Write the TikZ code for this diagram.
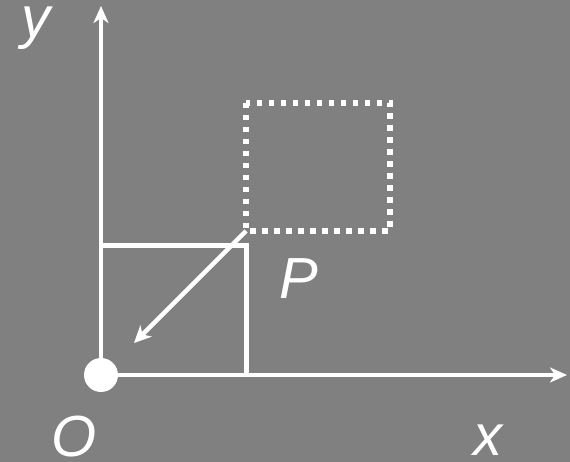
\documentclass[tikz,border=0pt]{standalone}
\usepackage{fontspec}
\setmainfont{Liberation Sans}
\usetikzlibrary{arrows.meta, positioning}

\begin{document}
\begin{tikzpicture}[
  x=1pt, y=-1pt,
  every node/.style = {font=\fontsize{58}{60}\selectfont\itshape, text=white,
                       inner sep=0pt},
  axis/.style  = {-{Stealth[length=17pt, width=15pt, inset=5pt]},
                  line width=4.5pt, white},
  boxline/.style = {line width=5pt, white},
  moved/.style = {line width=5.5pt, white, dash pattern=on 5.5pt off 6.5pt},
  shiftarr/.style = {-{Stealth[length=17pt, width=16pt, inset=5pt]},
                     line width=4.5pt, white},
]

%% ── Background ────────────────────────────────────────────────────────────
\fill[gray] (0,0) rectangle (570,462);
\useasboundingbox (0,0) rectangle (570,462);

%% ── Axes ──────────────────────────────────────────────────────────────────
\coordinate (O)    at (101,375);
\coordinate (xend) at (567,375);
\coordinate (yend) at (101,6);
\draw[axis] (O) -- (xend);
\draw[axis] (O) -- (yend);
\fill[white] (O) circle (17);

%% ── Square at P and its moved copy ───────────────────────────────────────
\coordinate (a) at (101,246);
\coordinate (b) at (246,246);
\coordinate (c) at (246,375);
\draw[boxline] (a) -- (b) -- (c);

\coordinate (d) at (246,103);
\coordinate (e) at (390,231);
\draw[moved] (d) rectangle (e);

%% ── Shift arrow ──────────────────────────────────────────────────────────
\coordinate (from) at (246,231);
\coordinate (to)   at (134,343);
\draw[shiftarr] (from) -- (to);

%% ── Labels ───────────────────────────────────────────────────────────────
\node (ylab) at (36,28)   {y};
\node (olab) at (74,437)  {O};
\node (xlab) at (488,440) {x};
\node (plab) at (299,279) {P};

\end{tikzpicture}
\end{document}
